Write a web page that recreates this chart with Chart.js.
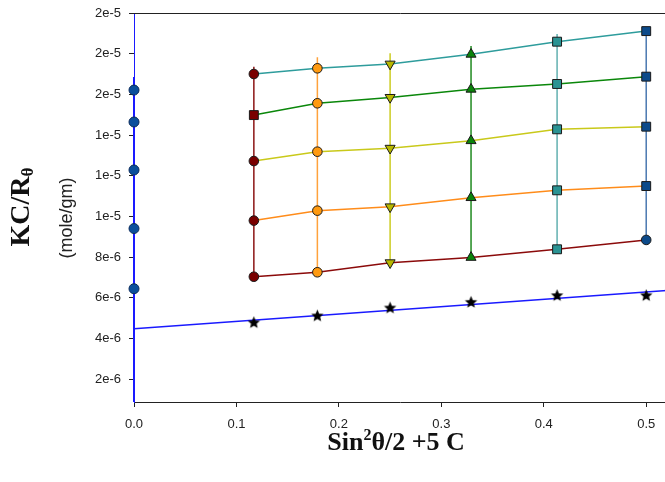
<!DOCTYPE html>
<html>
<head>
<meta charset="utf-8">
<script src="https://cdn.jsdelivr.net/npm/chart.js@4.4.1/dist/chart.umd.min.js"></script>
<style>
  html, body { margin: 0; padding: 0; background: #fff; overflow: hidden; }
  #wrap { position: relative; width: 665px; height: 482px; overflow: hidden; }
  #mycanvas { position: absolute; left: 0; top: 0; }
  .lbl { position: absolute; white-space: nowrap; color: #111; }
  #ytitle { left: 21px; top: 207px; transform: translate(-50%, -50%) rotate(-90deg);
            font: bold 28px "Liberation Serif", "Times New Roman", serif; }
  #ytitle sub { font-size: 17px; vertical-align: -4px; }
  #yunit { left: 66px; top: 218px; transform: translate(-50%, -50%) rotate(-90deg);
           font: 18px "Liberation Sans", Arial, sans-serif; color: #222; }
  #xtitle { left: 396px; top: 441px; transform: translate(-50%, -50%);
            font: bold 26px "Liberation Serif", "Times New Roman", serif; }
  #xtitle sup { font-size: 16px; vertical-align: 10px; }
</style>
</head>
<body>
<div id="wrap">
  <canvas id="mycanvas" width="674" height="482"></canvas>
  <div class="lbl" id="ytitle">KC/R<sub>θ</sub></div>
  <div class="lbl" id="yunit">(mole/gm)</div>
  <div class="lbl" id="xtitle">Sin<sup>2</sup>θ/2 +5 C</div>
</div>
<script>
// values in units of 1e-6 mole/gm
var xAngles = [0.117, 0.179, 0.250, 0.329, 0.413, 0.500];
var row1 = [17.00, 17.28, 17.49, 17.97, 18.59, 19.11];
var row2 = [14.98, 15.56, 15.85, 16.25, 16.51, 16.87];
var row3 = [12.72, 13.18, 13.35, 13.72, 14.28, 14.41];
var row4 = [9.79, 10.28, 10.47, 10.92, 11.28, 11.49];
var row5 = [7.03, 7.25, 7.72, 7.98, 8.38, 8.84];
var colTop = [17.36, 17.82, 18.02, 18.38, 18.97, 19.11];
var zeroC = [4.77, 5.10, 5.49, 5.77, 6.10, 6.10];      // stars
var zeroAngle = [16.21, 14.64, 12.28, 9.40, 6.44];     // circles at x = 0
var zeroAngleLine = [0.87, 16.85];
var fitX = [0, 0.52];
var fitY = [4.47, 6.35];

var xTickValues = [0, 0.1, 0.2, 0.3, 0.4, 0.5];
var xTickLabels = ['0.0', '0.1', '0.2', '0.3', '0.4', '0.5'];
var yTickValues = [2, 4, 6, 8, 10, 12, 14, 16, 18, 20];
var yTickLabels = ['2e-6', '4e-6', '6e-6', '8e-6', '1e-5', '1e-5', '1e-5', '2e-5', '2e-5', '2e-5'];

var rows = [row1, row2, row3, row4, row5];
var rowColors = ['#2e9c9c', '#0a870a', '#c9c91a', '#ff8c1a', '#8b0a0a'];
var colLineColors = ['#8b1414', '#ffa23c', '#cccc22', '#1f8a1f', '#62b0b0', '#4a78b0'];
var colFill = ['#7a0000', '#ff9a10', '#b8b800', '#0a840a', '#2a9393', '#0c4a8a'];
var colStyle = [
    ['circle', 'rect', 'circle', 'circle', 'circle'],
    ['circle', 'circle', 'circle', 'circle', 'circle'],
    ['triangle', 'triangle', 'triangle', 'triangle', 'triangle'],
    ['triangle', 'triangle', 'triangle', 'triangle', 'triangle'],
    ['rect', 'rect', 'rect', 'rect', 'rect'],
    ['rect', 'rect', 'rect', 'rect', 'circle']
];
var colRotation = [0, 0, 180, 0, 0, 0];

function E(v) { return v * 1e-6; }

// filled five point star for the c = 0 points
function makeStar(r) {
    var c = document.createElement('canvas');
    c.width = c.height = 2 * r + 2;
    var g = c.getContext('2d');
    g.beginPath();
    for (var i = 0; i < 10; i++) {
        var rad = i % 2 === 0 ? r : r * 0.45;
        var a = -Math.PI / 2 + i * Math.PI / 5;
        g.lineTo(r + 1 + rad * Math.cos(a), r + 1 + rad * Math.sin(a));
    }
    g.closePath();
    g.fillStyle = '#000';
    g.fill();
    return c;
}
var star = makeStar(6.5);

var datasets = [];

// rows (constant concentration)
for (var r = 0; r < rows.length; r++) {
    var pts = [];
    for (var i = 0; i < xAngles.length; i++) pts.push({ x: xAngles[i], y: E(rows[r][i]) });
    datasets.push({ data: pts, showLine: true, borderColor: rowColors[r], borderWidth: 1.5,
                    pointRadius: 0, order: 5 });
}

// columns (constant angle)
for (var c = 0; c < xAngles.length; c++) {
    var pts = [];
    for (var r = rows.length - 1; r >= 0; r--) pts.push({ x: xAngles[c], y: E(rows[r][c]) });
    pts.push({ x: xAngles[c], y: E(colTop[c]) });
    datasets.push({ data: pts, showLine: true, borderColor: colLineColors[c], borderWidth: 1.5,
                    pointRadius: 0, order: 5 });
}

// c = 0 fit line
datasets.push({ data: [{ x: fitX[0], y: E(fitY[0]) }, { x: fitX[1], y: E(fitY[1]) }],
                showLine: true, borderColor: '#1a1aff', borderWidth: 1.5, pointRadius: 0, order: 4 });

// angle = 0 line
datasets.push({ data: [{ x: 0, y: E(zeroAngleLine[0]) }, { x: 0, y: E(zeroAngleLine[1]) }],
                showLine: true, borderColor: '#1a1aff', borderWidth: 2, pointRadius: 0, order: 4,
                clip: false });

// markers per column
for (var c = 0; c < xAngles.length; c++) {
    var pts = [];
    var radii = [];
    for (var r = 0; r < rows.length; r++) {
        pts.push({ x: xAngles[c], y: E(rows[r][c]) });
        radii.push(colStyle[c][r] === 'rect' ? 6.3 : (colStyle[c][r] === 'triangle' ? 5.8 : 4.8));
    }
    datasets.push({ data: pts, showLine: false, pointStyle: colStyle[c], pointRadius: radii,
                    pointRotation: colRotation[c], backgroundColor: colFill[c],
                    borderColor: '#1a1a1a', borderWidth: 1, order: 0, clip: false });
}

// extrapolated zero angle points
datasets.push({ data: zeroAngle.map(function (v) { return { x: 0, y: E(v) }; }),
                showLine: false, pointStyle: 'circle', pointRadius: 5,
                backgroundColor: '#0b4f9c', borderColor: '#0a2a5a', borderWidth: 1, order: 0,
                clip: false });

// extrapolated zero concentration points
datasets.push({ data: xAngles.map(function (x, i) { return { x: x, y: E(zeroC[i]) }; }),
                showLine: false, pointStyle: star, order: 0, clip: false });

var topBorder = {
    id: 'topBorder',
    afterDraw: function (chart) {
        var a = chart.chartArea, ctx = chart.ctx;
        ctx.save();
        ctx.strokeStyle = '#222';
        ctx.lineWidth = 1;
        ctx.beginPath();
        ctx.moveTo(a.left, a.top + 0.5);
        ctx.lineTo(a.right, a.top + 0.5);
        ctx.stroke();
        ctx.restore();
    }
};

var tickFont = { family: '"Liberation Sans", Arial, sans-serif', size: 13 };

var ctx = document.getElementById('mycanvas');
var zimm = new Chart(ctx, {
    type: 'scatter',
    data: { datasets: datasets },
    plugins: [topBorder],
    options: {
        responsive: false,
        animation: false,
        layout: { padding: { top: 13, left: 0, right: 0, bottom: 0 } },
        plugins: { legend: { display: false }, tooltip: { enabled: false } },
        scales: {
            x: {
                type: 'linear', min: 0, max: 0.52,
                afterBuildTicks: function (s) { s.ticks = xTickValues.map(function (v) { return { value: v }; }); },
                afterFit: function (s) { s.height = 80; },
                ticks: { font: tickFont, color: '#222', padding: 10,
                         callback: function (v, i) { return xTickLabels[i]; } },
                grid: { drawOnChartArea: false, drawTicks: true, tickLength: 5, color: '#222' },
                border: { color: '#222', width: 1 }
            },
            y: {
                type: 'linear', min: E(0.87), max: E(20),
                afterBuildTicks: function (s) { s.ticks = yTickValues.map(function (v) { return { value: E(v) }; }); },
                afterFit: function (s) { s.width = 134; s.paddingTop = 0; s.paddingBottom = 0; },
                ticks: { font: tickFont, color: '#222', padding: 8,
                         callback: function (v, i) { return yTickLabels[i]; } },
                grid: { drawOnChartArea: false, drawTicks: true, tickLength: 5, color: '#222' },
                border: { color: '#1a1aff', width: 1 }
            }
        }
    }
});
</script>
</body>
</html>
